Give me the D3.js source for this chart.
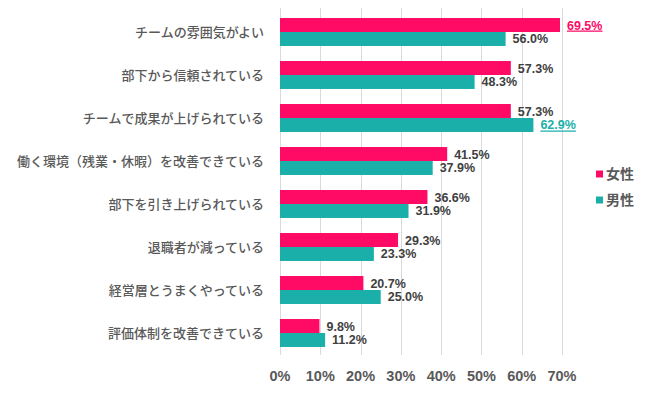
<!DOCTYPE html>
<html>
<head>
<meta charset="utf-8">
<script src="https://cdn.jsdelivr.net/npm/d3@7"></script>
<style>
  body { margin: 0; background: #fff; }
  svg { font-family: "Noto Sans CJK JP", "Noto Sans", sans-serif; }
</style>
</head>
<body>
<svg id="canvas" width="650" height="394"></svg>
<script>
let categories = [
  "チームの雰囲気がよい",
  "部下から信頼されている",
  "チームで成果が上げられている",
  "働く環境（残業・休暇）を改善できている",
  "部下を引き上げられている",
  "退職者が減っている",
  "経営層とうまくやっている",
  "評価体制を改善できている"
];
let female = [69.5, 57.3, 57.3, 41.5, 36.6, 29.3, 20.7, 9.8];
let male = [56.0, 48.3, 62.9, 37.9, 31.9, 23.3, 25.0, 11.2];
let ticks = [0, 10, 20, 30, 40, 50, 60, 70];
let seriesNames = ["女性", "男性"];

let pink = "#ff0a64";
let teal = "#1bafaa";
let numFont = '"Liberation Sans", Arial, sans-serif';

let canvas = d3.select("#canvas");

let x = d3.scaleLinear().domain([0, 70]).range([280, 562]);
let y = d3.scaleBand().domain(categories).range([10.5, 354.5]).paddingInner(0.35).paddingOuter(0.175);

// gridlines
canvas.selectAll("line.grid")
  .data(ticks)
  .enter()
  .append("line")
  .attr("class", "grid")
  .attr("x1", (d) => Math.round(x(d)) + 0.5)
  .attr("x2", (d) => Math.round(x(d)) + 0.5)
  .attr("y1", 8)
  .attr("y2", 355)
  .attr("stroke", "#d9d9d9")
  .attr("stroke-width", 1);

// tick labels
canvas.selectAll("text.tick")
  .data(ticks)
  .enter()
  .append("text")
  .attr("class", "tick")
  .attr("x", (d) => x(d))
  .attr("y", 381)
  .attr("text-anchor", "middle")
  .attr("font-family", numFont)
  .attr("font-size", "14.5px")
  .attr("font-weight", "bold")
  .attr("fill", "#595959")
  .text((d) => d + "%");

// category labels
canvas.selectAll("text.cat")
  .data(categories)
  .enter()
  .append("text")
  .attr("class", "cat")
  .attr("x", 264)
  .attr("y", (d) => y(d) + y.bandwidth() / 2 + 4.5)
  .attr("text-anchor", "end")
  .attr("font-size", "13px")
  .attr("font-weight", 500)
  .attr("fill", "#595959")
  .text((d) => d);

let half = y.bandwidth() / 2;
let series = [
  { name: seriesNames[0], values: female, color: pink, offset: 0 },
  { name: seriesNames[1], values: male, color: teal, offset: half }
];

series.forEach((s, k) => {
  let maxVal = d3.max(s.values);
  canvas.selectAll("rect.bar" + k)
    .data(s.values)
    .enter()
    .append("rect")
    .attr("class", "bar" + k)
    .attr("x", x(0))
    .attr("y", (d, i) => y(categories[i]) + s.offset)
    .attr("width", (d) => x(d) - x(0))
    .attr("height", half)
    .attr("fill", s.color);

  canvas.selectAll("text.val" + k)
    .data(s.values)
    .enter()
    .append("text")
    .attr("class", "val" + k)
    .attr("x", (d) => x(d) + 7)
    .attr("y", (d, i) => y(categories[i]) + s.offset + half / 2 + 4.5)
    .attr("font-family", numFont)
    .attr("font-size", "12.5px")
    .attr("font-weight", "bold")
    .attr("fill", (d) => (d === maxVal ? s.color : "#404040"))
    .attr("text-decoration", (d) => (d === maxVal ? "underline" : "none"))
    .text((d) => d.toFixed(1) + "%");
});

// legend
let legend = canvas.selectAll("g.legend")
  .data(series)
  .enter()
  .append("g")
  .attr("class", "legend")
  .attr("transform", (d, i) => "translate(596," + (174 + i * 26) + ")");

legend.append("rect")
  .attr("x", 0)
  .attr("y", -3.5)
  .attr("width", 7)
  .attr("height", 7)
  .attr("fill", (d) => d.color);

legend.append("text")
  .attr("x", 10)
  .attr("y", 5)
  .attr("font-size", "14px")
  .attr("font-weight", "bold")
  .attr("fill", "#595959")
  .text((d) => d.name);
</script>
</body>
</html>
